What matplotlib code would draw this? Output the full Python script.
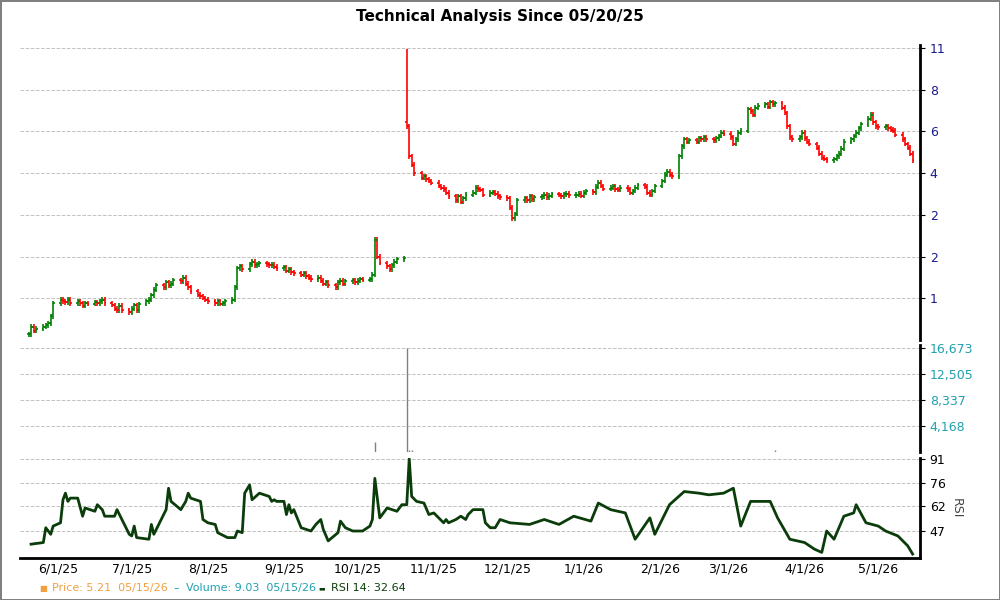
import pandas as pd
import numpy as np
import matplotlib.pyplot as plt
import matplotlib.dates as mdates

# daily closes, one row per week (first week starts Tue 5/20/25)
closes = [
    1.05, 1.12, 1.08, 1.10,
    1.12, 1.13, 1.15, 1.22, 1.36,
    1.40, 1.38, 1.37, 1.40, 1.36,
    1.38, 1.36, 1.33, 1.36, 1.35,
    1.37, 1.36, 1.38, 1.40, 1.36,
    1.34, 1.30, 1.28, 1.33, 1.28,
    1.26, 1.30, 1.34, 1.28, 1.35,
    1.38, 1.40, 1.45, 1.52, 1.58,
    1.55, 1.62, 1.58, 1.60, 1.65,
    1.63, 1.68, 1.60, 1.55, 1.50,
    1.46, 1.44, 1.42, 1.40, 1.38,
    1.36, 1.38, 1.35, 1.36, 1.38,
    1.40, 1.55, 1.82, 1.85, 1.80,
    1.88, 1.92, 1.86, 1.88, 1.90,
    1.88, 1.86, 1.87, 1.84, 1.82,
    1.83, 1.78, 1.80, 1.76, 1.74,
    1.72, 1.74, 1.70, 1.68, 1.66,
    1.68, 1.64, 1.60, 1.62, 1.58,
    1.55, 1.62, 1.64, 1.60, 1.63,
    1.65, 1.62, 1.64, 1.66, 1.65,
    1.66, 1.72, 2.30, 2.00, 1.90,
    1.85, 1.80, 1.86, 1.92, 1.96,
    1.98, 5.90, 4.60, 4.30, 4.00,
    3.85, 3.90, 3.80, 3.75, 3.70,
    3.60, 3.55, 3.50, 3.40, 3.30,
    3.20, 3.30, 3.15, 3.25, 3.35,
    3.40, 3.55, 3.50, 3.48, 3.35,
    3.40, 3.42, 3.38, 3.30, 3.28,
    3.25, 3.00, 2.75, 2.85, 3.20,
    3.25, 3.20, 3.30, 3.22, 3.28,
    3.30, 3.35, 3.28, 3.32, 3.36,
    3.34, 3.30, 3.36, 3.38, 3.33,
    3.35, 3.38, 3.32, 3.40, 3.45,
    3.42, 3.58, 3.70, 3.60, 3.52,
    3.55, 3.60, 3.50, 3.48, 3.55,
    3.50, 3.40, 3.45, 3.55, 3.62,
    3.58, 3.40, 3.35, 3.45, 3.60,
    3.75, 3.95, 4.05, 3.95, 3.90,
    4.60, 5.00, 5.30, 5.20, 5.25,
    5.20, 5.35, 5.30, 5.40, 5.30,
    5.25, 5.35, 5.45, 5.60, 5.55,
    5.40, 5.10, 5.30, 5.60, 5.70,
    6.80, 6.70, 6.50, 6.90, 7.00,
    7.10, 6.95, 7.20, 7.10, 7.15,
    6.90, 6.60, 5.90, 5.40, 5.30,
    5.40, 5.60, 5.35, 5.20, 5.10,
    4.95, 4.70, 4.55, 4.50, 4.45,
    4.50, 4.60, 4.70, 4.90, 5.20,
    5.30, 5.45, 5.60, 5.80, 6.00,
    6.30, 6.50, 6.10, 5.90, 5.85,
    5.90, 5.80, 5.75, 5.70, 5.50,
    5.30, 5.10, 4.95, 4.70, 4.45,
]
spike_date = '2025-10-21'
spike_open = 6.10
spike_high = 11.2

vol_dates = ['2025-10-08', '2025-10-21', '2025-10-22', '2025-10-23', '2026-03-20']
vol_vals = [1500, 16673, 300, 250, 350]

# RSI points: days since 05/20/25, value
rsi_days = [1, 6, 7, 9, 10, 13, 14, 15, 16, 17, 20, 22, 23, 27, 28, 30, 31, 35, 36, 41,
            42, 43, 44, 49, 50, 51, 56, 57, 58, 62, 64, 65, 66, 70, 71, 73, 76, 77, 81, 84,
            85, 87, 88, 90, 91, 94, 98, 99, 100, 101, 104, 105, 106, 107, 108, 111, 115, 117, 119, 120,
            122, 126, 127, 129, 132, 136, 139, 140, 141, 143, 146, 150, 152, 154, 155, 156, 158, 161, 163, 165,
            169, 170, 171, 174, 176, 178, 179, 181, 185, 186, 188, 190, 192, 196, 204, 210, 216, 222, 229, 232,
            237, 243, 247, 253, 255, 261, 267, 273, 277, 283, 287, 290, 294, 302, 305, 310, 316, 320, 323, 325,
            328, 332, 336, 337, 341, 346, 349, 354, 358, 360]
rsi_vals = [39, 40, 49, 45, 50, 52, 66, 70, 65, 67, 67, 56, 61, 59, 63, 60, 56, 56, 60, 45,
            44, 50, 43, 42, 51, 45, 60, 73, 65, 60, 65, 70, 67, 65, 54, 52, 51, 46, 43, 43,
            47, 46, 70, 75, 66, 70, 68, 65, 66, 65, 65, 57, 63, 58, 60, 49, 47, 51, 54, 48,
            41, 46, 53, 49, 47, 47, 50, 54, 79, 55, 61, 59, 63, 63, 91, 68, 65, 64, 57, 58,
            52, 54, 52, 54, 56, 54, 57, 60, 60, 52, 49, 49, 54, 52, 51, 54, 51, 56, 53, 64,
            60, 58, 42, 55, 45, 63, 71, 70, 69, 70, 73, 50, 65, 65, 55, 42, 40, 36, 34, 47,
            42, 56, 58, 63, 52, 50, 47, 44, 38, 33]

start = pd.Timestamp('2025-05-20')
dates = pd.bdate_range(start, '2026-05-15')[:len(closes)]
x = mdates.date2num(dates)
c = np.array(closes)
o = np.r_[c[0], c[:-1]]
si = list(dates).index(pd.Timestamp(spike_date))
o[si] = spike_open
hi = np.maximum(o, c) * 1.02
lo = np.minimum(o, c) * 0.98
hi[si] = spike_high

fig = plt.figure(figsize=[10, 6], dpi=100)
fig.patch.set_edgecolor('grey')
fig.patch.set_linewidth(2)
fig.suptitle('Technical Analysis Since 05/20/25', y=0.985, fontsize=11, fontweight='bold')

L, W = 0.02, 0.9
ax1 = fig.add_axes([L, 0.433, W, 0.492])
ax2 = fig.add_axes([L, 0.247, W, 0.178], sharex=ax1)
ax3 = fig.add_axes([L, 0.07, W, 0.167], sharex=ax1)

grid_c = (194./255., 194./255., 194./255.)
for a in [ax1, ax2, ax3]:
    for s in ['top', 'left', 'bottom']:
        a.spines[s].set_visible(False)
    a.spines['right'].set_linewidth(2)
    a.yaxis.tick_right()
    a.grid(which='major', axis='y', c=grid_c, ls='--', lw=0.7)
    a.tick_params(axis='x', length=0)

# price bars
col = np.where(c >= o, 'green', 'red')
tw = 0.7
ax1.vlines(x, lo, hi, colors=col, lw=1.2)
ax1.hlines(o, x - tw, x, colors=col, lw=1.2)
ax1.hlines(c, x, x + tw, colors=col, lw=1.2)
ax1.set_yscale('log')
pt = [2 ** (k / 2.) for k in range(1, 8)]
ax1.set_yticks(pt)
ax1.set_yticklabels(['1', '2', '2', '4', '6', '8', '11'])
ax1.yaxis.set_minor_locator(plt.NullLocator())
ax1.set_ylim(1.0, 11.6)
ax1.tick_params(axis='y', colors='black', labelcolor='#1a1a8c', labelsize=9)
ax1.tick_params(axis='x', labelbottom=False)

# volume
vx = mdates.date2num(pd.to_datetime(vol_dates))
ax2.vlines(vx, 0, vol_vals, colors='grey', lw=1)
ax2.set_ylim(0, 17200)
ax2.set_yticks([4168, 8337, 12505, 16673])
ax2.set_yticklabels(['4,168', '8,337', '12,505', '16,673'])
ax2.tick_params(axis='y', labelcolor='#20a0b0', labelsize=9)
ax2.tick_params(axis='x', labelbottom=False)

# RSI
rx = mdates.date2num(start + pd.to_timedelta(rsi_days, unit='D'))
ax3.plot(rx, rsi_vals, '-', c='#0b3d0b', lw=2)
ax3.set_ylim(30.6, 91.5)
ax3.set_yticks([47, 62, 76, 91])
ax3.tick_params(axis='y', labelsize=9)
ax3.spines['bottom'].set_visible(True)
ax3.spines['bottom'].set_linewidth(2)
ax3.yaxis.set_label_position('right')
ax3.set_ylabel('RSI', rotation=270, labelpad=12, fontsize=9, color='#444444')
months = pd.date_range('2025-06-01', '2026-05-01', freq='MS')
ax3.set_xticks(mdates.date2num(months))
ax3.set_xticklabels([f'{d.month}/1/{d.strftime("%y")}' for d in months], fontsize=9)
ax3.set_xlim(mdates.date2num(start) - 3.5, mdates.date2num(start) + 363)

fs = 8
fig.text(0.039, 0.02, '■', color='#f0a040', fontsize=6, va='center')
fig.text(0.052, 0.02, 'Price: 5.21  05/15/26', color='#f0a040', fontsize=fs, va='center')
fig.text(0.173, 0.02, '–', color='#20a0b0', fontsize=fs, va='center')
fig.text(0.186, 0.02, 'Volume: 9.03  05/15/26', color='#20a0b0', fontsize=fs, va='center')
fig.text(0.318, 0.02, '▬', color='#0b3d0b', fontsize=5, va='center')
fig.text(0.331, 0.02, 'RSI 14: 32.64', color='#0b3d0b', fontsize=fs, va='center')

fig.savefig('out.png', dpi=100, edgecolor=fig.get_edgecolor())
